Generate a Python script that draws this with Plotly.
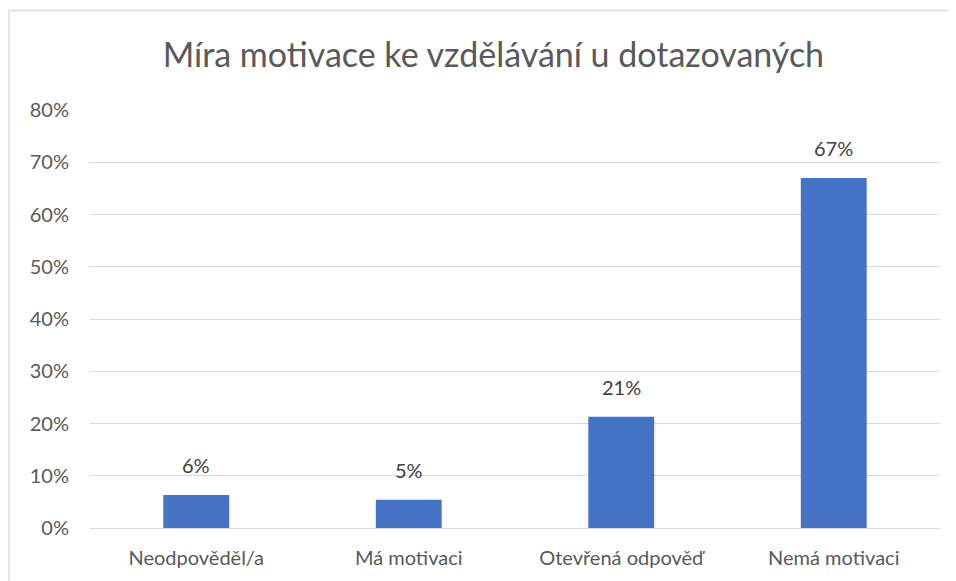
import plotly.graph_objects as go

categories = ["Neodpověděl/a", "Má motivaci", "Otevřená odpověď", "Nemá motivaci"]
values = [6.3, 5.4, 21.3, 67.0]
tick_vals = [0, 10, 20, 30, 40, 50, 60, 70, 80]
tick_text = ["0%", "10%", "20%", "30%", "40%", "50%", "60%", "70%", "80%"]
title = "Míra motivace ke vzdělávání u dotazovaných"

FONT = "Lato, Open Sans, sans-serif"
GRAY = "#595959"

fig = go.Figure(go.Bar(
    x=categories, y=values, width=0.31,
    marker=dict(color="#4472C4", line=dict(width=0)),
    hoverinfo="skip",
))

for c, v in zip(categories, values):
    fig.add_annotation(x=c, y=v, text=f"{round(v)}%", showarrow=False,
                       yanchor="bottom", yshift=16,
                       font=dict(family=FONT, size=20, color="#404040"))

fig.update_layout(
    width=948, height=573,
    margin=dict(l=82, r=16, t=102, b=51),
    paper_bgcolor="white", plot_bgcolor="white",
    title=dict(text=title, x=0.512, xanchor="center", y=0.918, yanchor="middle",
               font=dict(family=FONT, size=34, color=GRAY)),
    showlegend=False,
    xaxis=dict(showgrid=False, showline=False, ticks="", ticklabelstandoff=16,
               tickfont=dict(family=FONT, size=20, color=GRAY)),
    yaxis=dict(range=[0, 80], tickvals=tick_vals, ticktext=tick_text, showgrid=True,
               gridcolor="#D9D9D9", gridwidth=1.3, zeroline=True, zerolinecolor="#D9D9D9",
               zerolinewidth=1.3, ticks="", ticklabelstandoff=20,
               tickfont=dict(family=FONT, size=20, color=GRAY)),
    shapes=[dict(type="rect", xref="paper", yref="paper",
                 x0=-0.0953, x1=1.0153, y0=-0.2, y1=1.238,
                 line=dict(color="#D9D9D9", width=1.3), layer="below")],
)

fig.write_html("out.html")
